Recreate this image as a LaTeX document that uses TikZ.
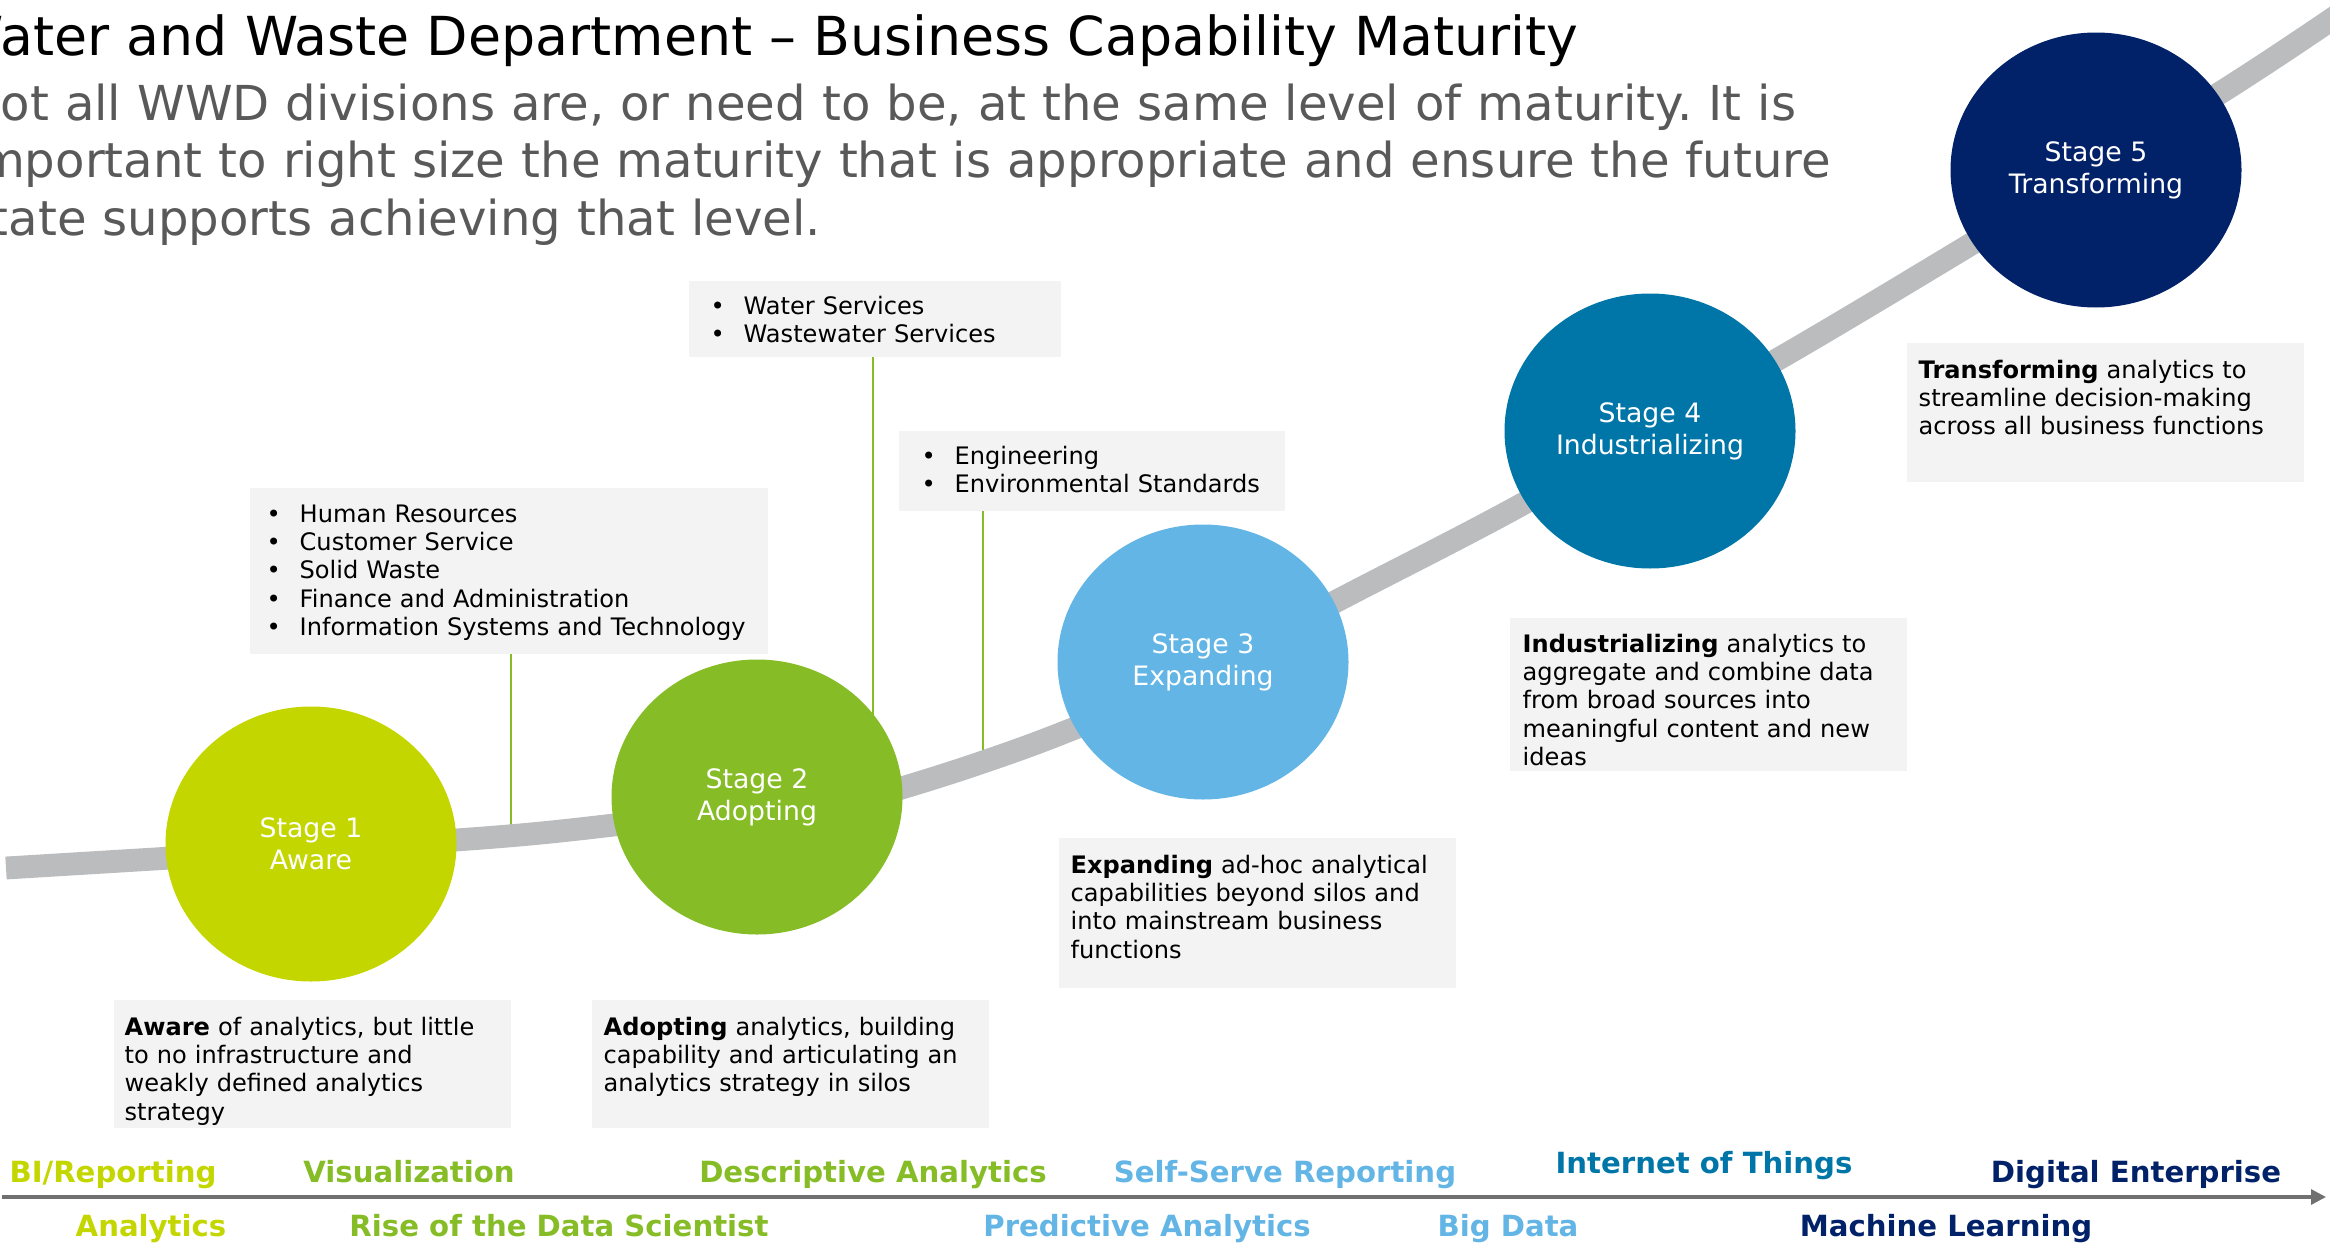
\documentclass[tikz,border=0pt]{standalone}
\usepackage{fontspec}
\setmainfont{DejaVu Sans}
\usetikzlibrary{shapes.geometric,arrows.meta,calc}

\definecolor{stageone}{HTML}{C4D600}
\definecolor{stagetwo}{HTML}{86BC25}
\definecolor{stagethree}{HTML}{62B5E5}
\definecolor{stagefour}{HTML}{0076A8}
\definecolor{stagefive}{HTML}{012169}
\definecolor{boxgray}{HTML}{F3F3F3}
\definecolor{curvegray}{HTML}{BBBCBE}
\definecolor{axisgray}{HTML}{707070}
\definecolor{subgray}{HTML}{595959}

\newcommand\titlefont{\fontsize{15.3}{18}\selectfont}
\newcommand\subfont{\fontsize{13.7}{16.5}\selectfont}
\newcommand\descfont{\fontsize{6.85}{8.1}\selectfont}
\newcommand\stagefont{\fontsize{7.6}{9.1}\selectfont}
\newcommand\axisfont{\fontsize{8.3}{10}\selectfont\bfseries}
\newcommand\bul{\makebox[3.3mm][l]{\textbullet}}

\frenchspacing

\begin{document}
\begin{tikzpicture}[x=0.1mm, y=-0.1mm]

\useasboundingbox (0,0) rectangle (2330,1243);
\clip (0,0) rectangle (2330,1243);

%% styles for the maturity drawing
\tikzstyle{stage}=[ellipse, minimum width=29.1mm, minimum height=27.5mm, inner sep=0pt, text=white, align=center, font=\stagefont]
\tikzstyle{desc box}=[rectangle, fill=boxgray, anchor=north west, inner sep=0pt, minimum width=39.7mm]
\tikzstyle{desc text}=[anchor=base west, text width=38mm, align=left, inner sep=0pt, font=\descfont]
\tikzstyle{list text}=[desc text, text width=50mm]
\tikzstyle{leader}=[draw=stagetwo, line width=0.6pt]
\tikzstyle{curve}=[draw=curvegray, line width=6.5pt]
\tikzstyle{axis}=[draw=axisgray, line width=0.9pt, -{Triangle[length=1.5mm, width=1.5mm]}]
\tikzstyle{axis label}=[anchor=base, inner sep=0pt, font=\axisfont]

% heading
\node[anchor=base west, inner sep=0pt, font=\titlefont] (title) at (-50,55) {Water and Waste Department – Business Capability Maturity};
\node[anchor=base west, text width=200mm, align=left, inner sep=0pt, font=\subfont, text=subgray] (sub) at (-36,120)
  {Not all WWD divisions are, or need to be, at the same level of maturity. It is\\important to right size the maturity that is appropriate and ensure the future\\state supports achieving that level.};

% division lists
\node[desc box, minimum width=51.8mm, minimum height=16.6mm] (H) at (249,487) {};
\node[list text] (H-t) at ($(H.north west)+(17,35)$) {\bul Human Resources\\\bul Customer Service\\\bul Solid Waste\\\bul Finance and Administration\\\bul Information Systems and Technology};

\node[desc box, minimum width=37.2mm, minimum height=7.6mm] (F) at (688,280) {};
\node[list text] (F-t) at ($(F.north west)+(22,34)$) {\bul Water Services\\\bul Wastewater Services};

\node[desc box, minimum width=38.6mm, minimum height=8.0mm] (G) at (898,430) {};
\node[list text] (G-t) at ($(G.north west)+(23,34)$) {\bul Engineering\\\bul Environmental Standards};

% stage descriptions
\node[desc box, minimum height=12.8mm] (D-1) at (113,999) {};
\node[desc text] (T-1) at ($(D-1.north west)+(11,36)$) {\textbf{Aware} of analytics, but little\\to no infrastructure and\\weakly defined analytics\\strategy};

\node[desc box, minimum height=12.8mm] (D-2) at (591,999) {};
\node[desc text] (T-2) at ($(D-2.north west)+(12,36)$) {\textbf{Adopting} analytics, building\\capability and articulating an\\analytics strategy in silos};

\node[desc box, minimum height=15.0mm] (D-3) at (1058,837) {};
\node[desc text] (T-3) at ($(D-3.north west)+(12,36)$) {\textbf{Expanding} ad-hoc analytical\\capabilities beyond silos and\\into mainstream business\\functions};

\node[desc box, minimum height=15.3mm] (D-4) at (1509,617) {};
\node[desc text] (T-4) at ($(D-4.north west)+(13,35)$) {\textbf{Industrializing} analytics to\\aggregate and combine data\\from broad sources into\\meaningful content and new\\ideas};

\node[desc box, minimum height=13.9mm] (D-5) at (1906,342) {};
\node[desc text] (T-5) at ($(D-5.north west)+(12,36)$) {\textbf{Transforming} analytics to\\streamline decision-making\\across all business functions};

% leader lines down to the curve
\coordinate (c-H) at (511,835);
\coordinate (c-F) at (873,797);
\coordinate (c-G) at (983,762);
\draw[leader] (H.south -| c-H) -- (c-H);
\draw[leader] (F.south -| c-F) -- (c-F);
\draw[leader] (G.south -| c-G) -- (c-G);

% maturity curve, in two pieces that meet under stage 2
\draw[curve] plot[smooth, tension=0.5] coordinates {(6,868) (456,840) (614,825) (760,806)};
\draw[curve] plot[smooth, tension=0.5] coordinates {(757,830) (905,787) (983,762) (1060,734) (1200,676) (1331,604) (1519,506) (1780,358) (1968,246) (2223,91) (2360,0)};

%% stage ellipses
\foreach \name/\x/\y/\col/\lbl in {1/311/844/stageone/Aware,
2/757/797/stagetwo/Adopting,
3/1203/662/stagethree/Expanding,
4/1650/431/stagefour/Industrializing,
5/2096/170/stagefive/Transforming}{
\node[stage, fill=\col] (S-\name) at (\x,\y) {Stage \name\\\lbl};}

%% time axis with capabilities
\coordinate (ax-start) at (2,1197);
\coordinate (ax-end) at (2326,1197);
\draw[axis] (ax-start) -- (ax-end);

\foreach \x/\y/\col/\txt [count=\i] in {113/1182/stageone/{BI/Reporting},
409/1182/stagetwo/Visualization,
873/1182/stagetwo/Descriptive Analytics,
1285/1182/stagethree/Self-Serve Reporting,
1704/1173/stagefour/Internet of Things,
2136/1182/stagefive/Digital Enterprise,
151/1236/stageone/Analytics,
559/1236/stagetwo/Rise of the Data Scientist,
1147/1236/stagethree/Predictive Analytics,
1508/1236/stagethree/Big Data,
1946/1236/stagefive/Machine Learning}{
\node[axis label, text=\col] (L-\i) at (\x,\y) {\txt};}

\end{tikzpicture}
\end{document}
